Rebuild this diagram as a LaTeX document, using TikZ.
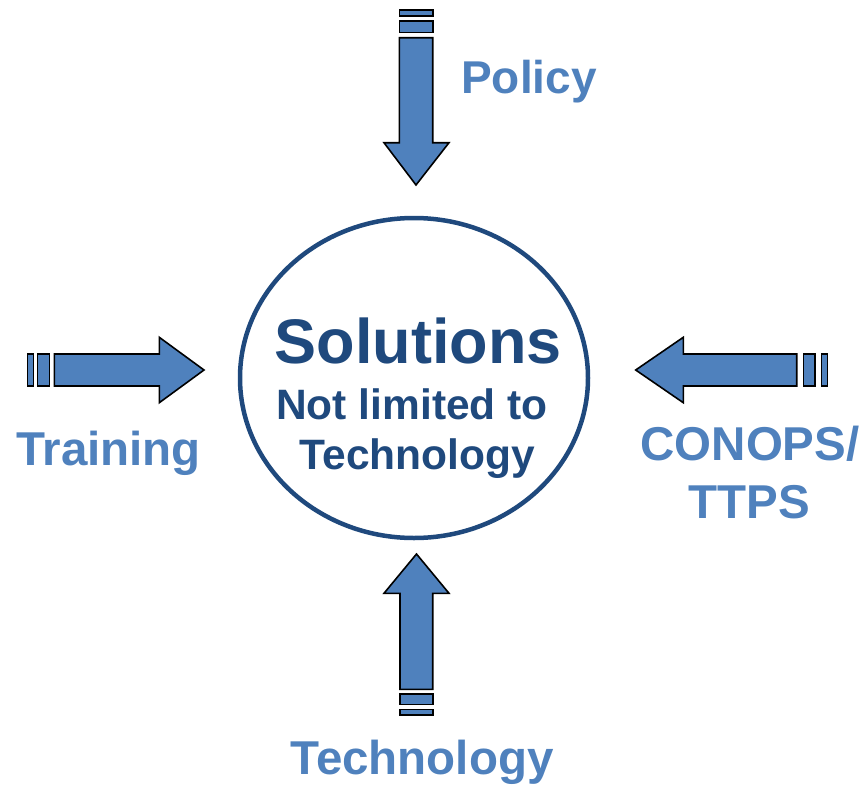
\documentclass[tikz,border=0pt]{standalone}
\usepackage{fontspec}
\setmainfont{Liberation Sans}
\usetikzlibrary{shapes.geometric}
\definecolor{arrowblue}{HTML}{4F81BD}
\definecolor{darkblue}{HTML}{1F497D}
\begin{document}
\begin{tikzpicture}[x=1pt,y=-1pt,
  arrowshape/.style={fill=arrowblue,draw=black,line width=1.6pt,line join=miter},
  lbl/.style={text=arrowblue,font=\bfseries\fontsize{47.5}{58}\selectfont,anchor=base,inner sep=0pt},
  ctext/.style={text=darkblue,anchor=base,inner sep=0pt}]
\useasboundingbox (0,0) rectangle (863,785);
% central ellipse
\node[ellipse,draw=darkblue,line width=4.5pt,minimum width=348pt,minimum height=320pt,inner sep=0pt] (sol) at (414,378) {};
\node[ctext,font=\bfseries\fontsize{63}{70}\selectfont] (t1) at (418,363) {Solutions};
\node[ctext,font=\bfseries\fontsize{42.5}{50}\selectfont] (t2) at (412,419) {Not limited to};
\node[ctext,font=\bfseries\fontsize{42.5}{50}\selectfont] (t3) at (417.5,469) {Technology};
% top arrow
\draw[arrowshape] (399.3,10) rectangle (432.7,15.7);
\draw[arrowshape] (399.3,21) rectangle (432.7,32.3);
\draw[arrowshape] (399.3,37.7) -- (432.7,37.7) -- (432.7,142.7) -- (449,142.7) -- (416,185) -- (384,142.7) -- (399.3,142.7) -- cycle;
% bottom arrow
\draw[arrowshape] (400,709.3) rectangle (432.7,714.7);
\draw[arrowshape] (400,694) rectangle (432.7,704.3);
\draw[arrowshape] (400,689.3) -- (432.7,689.3) -- (432.7,593.3) -- (449,593.3) -- (416.5,554) -- (384,593.3) -- (400,593.3) -- cycle;
% left arrow
\draw[arrowshape] (27.3,354) rectangle (33.3,386);
\draw[arrowshape] (37.3,354) rectangle (49.3,386);
\draw[arrowshape] (54.3,354) -- (159.3,354) -- (159.3,337.3) -- (204,370) -- (159.3,402.7) -- (159.3,386) -- (54.3,386) -- cycle;
% right arrow
\draw[arrowshape] (821.3,354) rectangle (827.3,386);
\draw[arrowshape] (803.3,354) rectangle (815,386);
\draw[arrowshape] (796.7,354) -- (683.3,354) -- (683.3,337.3) -- (635.7,370) -- (683.3,402.7) -- (683.3,386) -- (796.7,386) -- cycle;
% labels
\node[lbl,font=\bfseries\fontsize{46}{58}\selectfont] (policy) at (529,93) {Policy};
\node[lbl] (training) at (108.5,465) {Training};
\node[lbl] (conops) at (750,460) {CONOPS/};
\node[lbl] (ttps) at (749,518) {TTPS};
\node[lbl] (tech) at (422,774) {Technology};
\end{tikzpicture}
\end{document}
